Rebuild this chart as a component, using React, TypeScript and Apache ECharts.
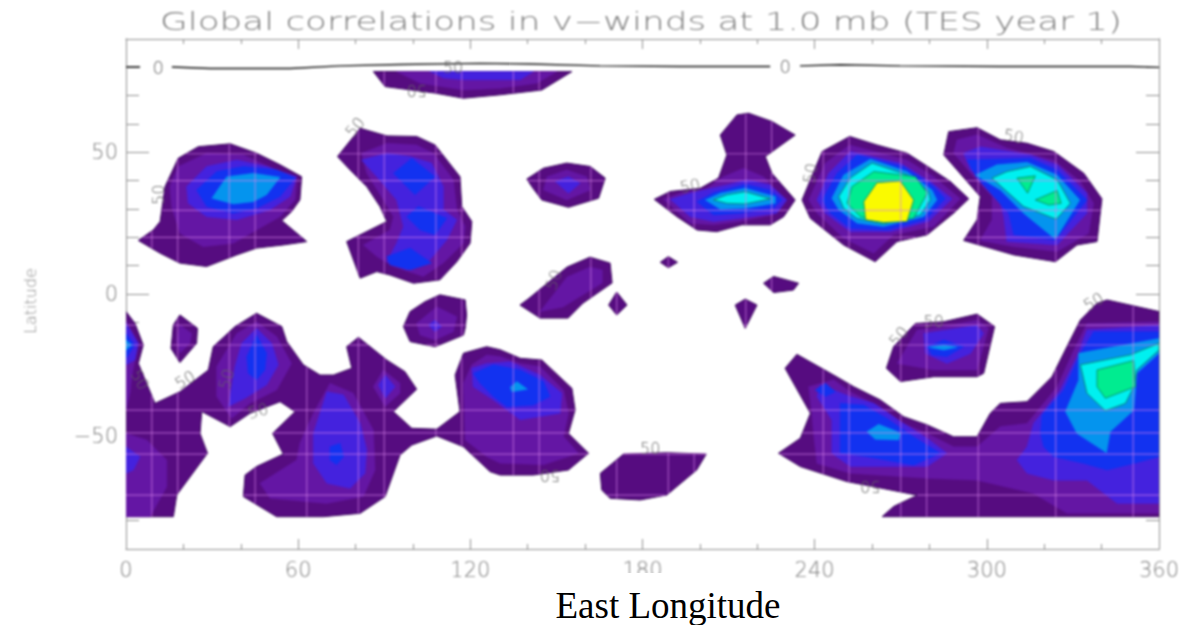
import React, { useEffect, useRef } from "react";
import * as echarts from "echarts";

type Pt = number[];
type Poly = Pt[];

const titleText = "Global correlations in v\u2212winds at 1.0 mb (TES year 1)";
const xName = "East Longitude";
const yName = "Latitude";
const majorLatTicks = [-50, 0, 50];
const levelColors = ["#560c80", "#6416a4", "#4422de", "#1232f0", "#0494ee", "#00f0f0", "#00ec90", "#fafa00"];
const gridLons = [9, 18, 36, 45, 63, 81, 90, 108, 117, 135, 144, 162, 171, 189, 198, 216, 225, 243, 252, 270, 279, 297, 324, 351];
const gridLats = [49.5, 40, 29.5, 20, -11, -18, -41, -49, -56.5, -71];

const level0: Poly[] = [
  [[4.3,18.9],[9.5,22.6],[11.9,25.6],[13.6,37.9],[18.2,47.9],[25.2,52],[36.3,53],[45.5,49.7],[53.7,45.6],[61.2,41.4],[60.6,33.2],[57.7,29.1],[54.3,25.9],[63,18.5],[54.8,17.3],[45.5,16.2],[38.6,13.8],[28.1,9.7],[18.8,10.9],[11.9,14.4]],
  [[81.6,58.5],[90.9,55.8],[101.3,55.6],[107.7,52.6],[116.4,41.4],[117,30.9],[120.5,25.6],[119.9,17.9],[115.3,11.4],[109.4,5],[100.2,3.8],[92,6.7],[87.4,7.9],[81.6,5.6],[76.9,18.5],[90.9,25.6],[88.5,30.9],[83.9,37.9],[78.1,43.8],[73.7,48.5]],
  [[86.2,78.5],[155.4,78.5],[144.9,72],[130.4,70.3],[117.6,69.1],[107.7,70.9],[90.3,73.2]],
  [[139.7,40.6],[145.5,44.4],[153.6,46.2],[161.8,45],[167,40.9],[164.7,33.8],[154.2,30.6],[144.9,33.2],[141.4,37.9]],
  [[184.1,33.4],[189.7,36.2],[200.1,37.3],[206.5,40.9],[209.4,49.1],[207.1,56.1],[212.9,63.2],[217,63.8],[225.1,60.9],[233.2,56.1],[222.8,48.5],[225.1,42.6],[233.2,33.2],[229.2,27.3],[224.5,24.4],[214.6,24.4],[205.9,22],[199,22.6],[192,27.3]],
  [[235.6,33.2],[242.6,50.3],[252.2,55.6],[261.7,52.6],[272.2,49.7],[280.3,44.4],[287.3,39.7],[293.7,33.6],[288.4,28.5],[279.2,20.9],[268.7,18.5],[261.1,11.4],[250.1,17.3],[238.5,26.7]],
  [[285,49.1],[286.7,57.3],[296.6,58.7],[304.7,54.4],[314,53.2],[323.3,50.3],[333.8,42.6],[340.1,33.6],[338.4,18.5],[331.4,17.3],[323.9,11.4],[309.4,13.8],[291.9,18.9],[296.6,26.2],[297.7,34.4],[289.6,43.8]],
  [[18.8,-7.4],[24.9,-12.1],[24.6,-17.4],[18.8,-24.2],[15.7,-19.2],[16.5,-10.9]],
  [[0,-6.2],[3.1,-10.3],[6,-18],[4.3,-24.5],[10.1,-38.6],[18.8,-34.5],[28.7,-26.8],[30.4,-18.6],[38,-11.5],[45.5,-6.8],[54.3,-11.5],[56,-16.8],[61.8,-25],[67.6,-28.6],[72.3,-28.6],[78.7,-26.2],[76.9,-18.6],[81,-15.3],[90.9,-23.3],[97.2,-27.4],[101.3,-33.6],[93.2,-41.5],[99.6,-47.4],[108.3,-47.7],[116.4,-41.5],[114.7,-28.6],[117.6,-20.9],[125.7,-18.6],[130.4,-19.7],[137.4,-22.7],[144.9,-23.3],[155.4,-33.3],[156.5,-40.9],[154.2,-49.2],[161.2,-56.2],[154.2,-62.1],[142,-63.9],[130.4,-63.9],[126.9,-62.7],[117.6,-53.9],[108.3,-50.1],[99.6,-53.3],[95.5,-56.8],[90.3,-71.5],[81.6,-77.4],[68.8,-78.6],[52.5,-78.6],[40.9,-71.5],[41.5,-63.9],[45.5,-60.9],[54.8,-56.5],[51.1,-49.2],[58.9,-41.5],[53.7,-38],[43.2,-42.1],[36.3,-46.8],[26.4,-41.5],[25.8,-49.2],[28.4,-56.2],[17.7,-70.9],[16.5,-78.6],[0,-78.6]],
  [[96.7,-11.5],[99,-6.2],[104.2,-2.7],[109.4,-0.3],[118.2,-2.1],[118.7,-7.4],[118.2,-12.1],[117.6,-14.5],[107.7,-18.6],[99,-16.8]],
  [[173.4,-56.5],[188.5,-56],[202.2,-56.5],[198.9,-62.1],[188.5,-70.9],[179.2,-72.7],[168.7,-72.1],[165.8,-69.2],[165.3,-63.3]],
  [[140.1,-1.8],[153.7,9.5],[161.7,13],[168.7,10.9],[169.4,3.9],[159.3,-3.2],[154.1,-8.5],[144.3,-8.5],[137.3,-3.9]],
  [[186.2,11.2],[189,13.2],[192.2,11.2],[189,9.3]],
  [[222.2,3.8],[225.7,6.2],[234.4,3.8],[232.6,1.4],[225.7,0.5]],
  [[171,0.7],[174.6,-3.9],[171,-7.4],[168.2,-3.9]],
  [[212.3,-3.9],[215.8,-1.8],[219.9,-3.9],[215.8,-12.1]],
  [[227.4,-56.2],[235,-50.9],[238.5,-42.1],[229.7,-26.2],[233.8,-21.3],[246.6,-28.6],[253.6,-32.7],[262.9,-37.4],[271,-43.3],[279.2,-46.2],[288.4,-50.4],[296.6,-50.4],[301.2,-42.1],[304.7,-38.6],[314,-38],[322.7,-29.2],[327.9,-18.6],[332.6,-9.2],[338.4,-3.3],[341.9,-2.1],[360,-6.2],[360,-78.6],[263.5,-78.6],[267.5,-75],[275.7,-71],[260.6,-68],[251.2,-66.2],[235,-60.9]],
  [[265,-26.2],[267.5,-18.6],[275.1,-10.4],[285,-9.8],[296.6,-7.1],[302.7,-11.5],[298.9,-28],[296.6,-29.2],[281.5,-29.2],[269.9,-30.9]],
];

const level1: Poly[] = [
  [[18.2,45],[28.1,49.7],[40.9,49.1],[52.5,43.8],[59.5,40.3],[58.9,33.2],[53.7,27.3],[45.5,22.6],[37.4,17.9],[26.9,16.7],[18.8,21.4],[15.9,30.9],[15.3,37.9]],
  [[82.1,49.7],[90.9,53.2],[101.3,52.6],[107.1,49.7],[114.1,40.3],[115.3,29.7],[118.2,23.8],[117.6,17.9],[110.6,10.9],[103.6,6.2],[93.2,9.7],[87.4,13.2],[82.7,17.3],[92,22.6],[93.2,27.3],[89.7,33.2],[83.9,42.6]],
  [[94.3,78.5],[150.2,78.5],[143.2,74.4],[130.4,72.6],[117.6,72],[102.5,74.4]],
  [[146.7,41.4],[153.6,43.8],[160.6,41.4],[161.8,36.7],[153.6,33.2],[145.5,36.7]],
  [[187.3,33.4],[193.1,35.6],[202.4,37.3],[208.2,41.4],[215.2,44.4],[222.2,41.4],[229.7,33.2],[225.7,27.9],[214,25.6],[204.8,24.4],[196.6,25]],
  [[237.9,33.2],[243.7,46.2],[252.2,52.6],[272.2,47.3],[281.5,41.4],[290.8,33.6],[281.5,23.8],[267.5,20.9],[260.6,14.4],[250.1,19.7],[240.8,28.5]],
  [[288.4,49.7],[289.6,54.4],[296.6,56.2],[307,51.5],[323.3,47.3],[332.6,39.7],[337.2,32],[335.5,21.4],[324.5,15],[309.4,16.7],[297.7,18.9],[301.8,26.2],[301.8,34.4],[295.4,41.4]],
  [[18.8,-10.9],[22.9,-13.9],[22.3,-17.4],[18.8,-20.9],[17.7,-16.2]],
  [[0,-9.2],[4.3,-17.4],[2,-29.2],[1.4,-35],[0,-41]],
  [[0,-49.2],[7.2,-51.5],[14.2,-58.6],[14.2,-68],[8.4,-78.6],[0,-78.6]],
  [[31.6,-25.6],[38.6,-13.9],[45.5,-9.8],[52.5,-15],[57.7,-24.5],[52.5,-33.9],[43.2,-38.6],[36.8,-43.9],[31.6,-36.2]],
  [[60.6,-52.7],[65.3,-42.1],[71.1,-31.5],[79.2,-35],[86.2,-48],[86.8,-62.1],[82.7,-71.5],[69.9,-73.9],[50.2,-72.1],[46.7,-66.8],[59.5,-58.6]],
  [[86.2,-32.7],[89.7,-26.8],[95.5,-31.5],[95.5,-35],[90.3,-39.7]],
  [[101.3,-10.3],[108.3,-4.5],[115.3,-8],[114.1,-13.3],[107.7,-16.2],[102.5,-14.5]],
  [[117.6,-31.5],[120.5,-25],[125.7,-21.5],[130.4,-22.1],[137.4,-24.5],[144.3,-25.6],[152.5,-33.9],[154.2,-42.1],[152.5,-50.3],[157.7,-56.2],[145.5,-60.3],[130.4,-59.7],[125.7,-57.4],[118.2,-51.5]],
  [[153.7,6],[161.7,9.5],[166,8.5],[166,3.9],[152.3,-4.6],[144.3,-6.2]],
  [[237.9,-32.7],[246.6,-30.3],[252.4,-34.5],[262.9,-39.8],[271,-45.7],[279.2,-49.2],[288.4,-53.9],[296.6,-53.9],[304.7,-46.8],[314,-45.7],[324.5,-32.7],[330.3,-19.8],[334.9,-10.4],[360,-9.8],[360,-77.4],[327.9,-77.4],[316.3,-70.4],[296.6,-65.7],[279.2,-65],[252.4,-63.3],[240.8,-59.8],[239.6,-49.2],[239,-42.1]],
  [[268.7,-24.5],[275.7,-12.7],[285,-11.5],[296.6,-9.2],[300.6,-12.1],[296.6,-26.8],[281.5,-26.8]],
];

const level2: Poly[] = [
  [[21.1,37.9],[28.1,45],[38.6,47.3],[49,45],[59.5,41.4],[57.2,34.4],[50.2,29.7],[38.6,26.2],[28.1,27.3],[21.7,32]],
  [[82.1,47.3],[90.9,49.7],[99,48.5],[106.5,46.2],[110.6,37.9],[110.6,29.7],[115.3,26.2],[111.8,19.1],[105.9,12],[97.8,8.5],[90.9,11.4],[94.3,17.9],[96.7,23.8],[94.3,33.2],[87.4,41.4]],
  [[105.9,78.5],[142,78.5],[137.4,75.6],[117.6,75.6],[110.6,76.2]],
  [[149.6,39.7],[154.2,41.4],[158.3,39.1],[154.2,35.6]],
  [[189.7,33.4],[196.6,35.6],[209.4,38.5],[216.4,40.3],[224.5,38.5],[230.3,33.2],[226.8,28.5],[214,26.7],[204.8,25.6],[196.6,27.3]],
  [[240.8,33.2],[244.9,42.6],[252.4,50.3],[269.9,46.2],[280.3,39.7],[287.9,33.6],[279.7,25.6],[266.4,22],[252.4,22],[243.7,28.5]],
  [[291.9,49.7],[297.7,52],[315.2,49.1],[324.5,45.6],[334.9,35.6],[334.9,28.5],[324.5,17.3],[307,18.5],[305.9,27.3],[303.5,36.7],[294.3,43.8]],
  [[0,-10.3],[4.3,-17.4],[3.1,-23.3],[0,-25]],
  [[0,-53.9],[4.9,-57.4],[2.6,-62.1],[0,-63.3]],
  [[35.7,-39.7],[38,-25.6],[40.3,-17.4],[45.5,-12.1],[50.8,-17.4],[53.1,-25],[49,-32.1],[41.5,-36.8]],
  [[70,-34.5],[75.8,-35.6],[81.6,-45.6],[83.9,-55],[83.3,-63.3],[78.1,-68.6],[70,-66.8],[65.3,-59.7],[65.3,-49.2]],
  [[88,-32.1],[90.3,-28.6],[93.8,-32.7],[90.3,-36.8]],
  [[105.4,-10.9],[107.7,-9.2],[110,-11.5],[107.7,-13.3]],
  [[120.5,-26.2],[125.7,-24.5],[133.9,-23.9],[144.3,-28.6],[151.9,-35],[151.3,-42.1],[137.4,-44.4],[128,-37.4],[121,-32.7]],
  [[242,-32.1],[246.6,-33.9],[252.4,-36.2],[260.6,-38.6],[269.9,-45],[279.2,-50.9],[286.1,-56.2],[279.2,-60.9],[252.4,-60.9],[246,-56.2],[246,-44.5],[240.8,-36.2]],
  [[310.5,-58.6],[314,-53.9],[316.3,-45.6],[325.6,-33.9],[331.4,-22.1],[334.9,-12.7],[360,-11],[360,-73.9],[345.4,-73.9],[334.9,-65.7],[323.3,-65.7],[314,-63.3]],
  [[278,-13.9],[286.1,-12.7],[296.6,-11],[298.9,-13.9],[294.3,-21],[286.1,-24.5],[278.6,-21]],
];

const level3: Poly[] = [
  [[24.6,36.7],[31.6,43.2],[40.9,45],[52.5,43.8],[58.9,40.9],[53.7,34.4],[45.5,30.3],[37.4,28.5],[28.1,30.9]],
  [[93.2,42.6],[99.6,47.9],[107.7,41.4],[100.7,35]],
  [[97.8,27.3],[101.9,30.9],[111.8,26.7],[107.7,20.9],[102.5,22.6]],
  [[90.9,13.2],[99,16.2],[106.5,10.9],[99,8.5],[92,10.3]],
  [[199,32.6],[204.8,35.8],[215.8,38.7],[224.5,36.7],[228.6,33.2],[225.7,30.3],[214,28.5],[204.8,27.9]],
  [[242.6,33.2],[247.8,42.6],[254.8,49.1],[271,45],[281.5,37.9],[285.5,33.6],[278.6,26.2],[265.2,22.6],[252.4,23.2],[245.5,28.5]],
  [[293.1,47.3],[315.2,47.9],[324.5,43.8],[334.9,33.2],[323.9,19.1],[309.4,20.9],[307.6,28.5],[296.6,40.9]],
  [[0,-13.9],[3.1,-18],[0,-22.7]],
  [[42.1,-22.1],[45.5,-14.5],[49,-20.9],[48.4,-26.8],[45.5,-30.3],[42.6,-28]],
  [[71.1,-53.9],[74.6,-52.7],[75.8,-57.4],[73.4,-60.3],[71.1,-58.6]],
  [[121,-28],[128,-25],[137.4,-26.8],[145.5,-30.9],[147.8,-36.2],[142,-39.2],[132.7,-39.8],[128,-36.2],[123.4,-31.5]],
  [[248.9,-38.6],[257.1,-39.2],[265.2,-43.9],[274.5,-50.4],[283.8,-56.2],[274.5,-60.4],[258.2,-57.4],[248.9,-56.2]],
  [[240.2,-33.9],[243.7,-31.5],[247.2,-34.5],[243.7,-36.2]],
  [[318.7,-49.2],[319.2,-42.7],[326.8,-33.9],[332.6,-21],[337.2,-13.3],[360,-13.3],[360,-57.4],[351.2,-59.8],[341.9,-62.1],[333.8,-59.8],[323.3,-57.4],[319.8,-53.9]],
  [[279.2,-18.6],[285,-16.2],[291.9,-18.6],[286.1,-22.1],[280.9,-21.5]],
];

const level4: Poly[] = [
  [[35.1,41.4],[44.4,42.6],[53.7,41.2],[49,35],[44.4,32.6],[37.4,31.8],[29.9,33.8]],
  [[201.9,33.2],[207.1,35.6],[215.8,37.3],[226.3,34.4],[226.3,32],[215.8,30.3],[207.1,29.9]],
  [[246,33.8],[250.1,42],[259.4,47.6],[272.2,43.2],[280.9,36.7],[282.6,33.2],[278,27.3],[264,23.8],[254.8,25],[248.4,29.7]],
  [[296,42],[303.5,45.6],[314,46.5],[324.5,42],[332.4,33.2],[323.9,19.3],[312.8,28.5],[304.7,36.7]],
  [[0,-16.2],[2,-18],[0,-19.8]],
  [[133.9,-32.9],[136.2,-30.9],[139.9,-33.6],[134.5,-34.5]],
  [[258.2,-48.6],[262.3,-46],[269.9,-49],[269.3,-51.5],[261.1,-51.3]],
  [[332,-20.9],[360,-15.7],[360,-21],[352.3,-28],[351.2,-41],[343,-48.6],[341.7,-56],[331.4,-49.2],[327.4,-41.5],[332,-30.4]],
  [[279.7,-18.8],[285,-18],[289.6,-18.8],[285,-19.8]],
];

const level5: Poly[] = [
  [[204.8,33.2],[209.4,35],[215.8,36.1],[224.5,33.6],[215.8,31.8],[209.4,32]],
  [[248.4,34.4],[252.4,40.9],[260,46.2],[272.2,42],[279.7,36.1],[280.3,33.2],[276.8,27.9],[264,24.7],[254.8,26.7],[250.1,30.3]],
  [[301.8,40.9],[307,43.2],[315.2,45],[324.5,40.3],[329.1,32],[324.2,26.4],[312.8,30.9]],
  [[332.6,-25],[350,-21.5],[360,-17.4],[360,-19.8],[352.3,-26.8],[351.2,-32.7],[348.3,-38.6],[341.3,-41.2],[334.9,-35]],
];

const level6: Poly[] = [
  [[251.3,32],[253,37.9],[260.6,43.2],[275.1,41.4],[279.2,35.6],[274.5,26.7],[264,25.2],[255.9,27.3]],
  [[310.5,40.9],[316.9,41.7],[314.2,35.6]],
  [[316.9,33.2],[324.5,36.5],[325.9,32],[321.6,31.4]],
  [[338.4,-26.8],[351.2,-23.5],[351.8,-32.7],[341.3,-36.8],[338.4,-32.7]],
];

const level7: Poly[] = [
  [[257.1,32.6],[261.7,39.3],[269.9,39.9],[274.5,33.2],[272.2,25.6],[264,25.2],[257.7,26.2]],
];

const levels = [level0, level1, level2, level3, level4, level5, level6, level7];

const zeroLineA = [[0,80.1],[4.9,80.1]];
const zeroLineB = [[16,80.1],[29.3,79.6],[57.2,79.6],[74.6,80.5],[95.5,81],[123.4,81.4],[140.8,81.2],[165.2,80.5],[193.1,80.3],[224.5,80.3]];
const zeroLineC = [[234.9,80.5],[248.9,80.9],[269.8,80.5],[304.6,80.3],[325.5,80.3],[350,80.3],[360,80]];

// lon, lat, rotation in degrees, text
const contourLabels: [number, number, number, string][] = [
  [11.2, 80, 0, "0"], [229.7, 80.4, 0, "0"],
  [11.3, 35, 90, "50"], [79.8, 58.9, 50, "50"], [114, 80, 0, "50"], [101.3, 71.8, 180, "50"],
  [4.9, -30.3, -60, "50"], [20.6, -30.3, 30, "50"], [35, -30, 75, "50"], [46, -41.3, 15, "50"],
  [196.6, 38.2, 10, "50"], [238.5, 42.6, 80, "50"], [309.4, 55.6, -10, "50"], [149, 5, 70, "50"],
  [182.7, -54.7, 0, "50"], [147.8, -64.1, 180, "50"], [259.4, -68, 180, "50"], [337.2, -2.7, 30, "50"],
  [269.3, -15, 50, "50"], [281.5, -9.8, 0, "50"],
];

// Visible parts of the raster's grid lines: each line is cut by the lowest contour level.
function crossings(poly: Poly, axis: number, v: number): number[] {
  const out: number[] = [];
  for (let i = 0; i < poly.length; i++) {
    const a = poly[i];
    const b = poly[(i + 1) % poly.length];
    if (a[axis] <= v !== b[axis] <= v) {
      const t = (v - a[axis]) / (b[axis] - a[axis]);
      out.push(a[1 - axis] + t * (b[1 - axis] - a[1 - axis]));
    }
  }
  return out.sort((p, q) => p - q);
}
function gridSegments(): number[][] {
  const segs: number[][] = [];
  for (const poly of level0) {
    for (const lon of gridLons) {
      const c = crossings(poly, 0, lon);
      for (let i = 0; i + 1 < c.length; i += 2) segs.push([lon, c[i], lon, c[i + 1]]);
    }
    for (const lat of gridLats) {
      const c = crossings(poly, 1, lat);
      for (let i = 0; i + 1 < c.length; i += 2) segs.push([c[i], lat, c[i + 1], lat]);
    }
  }
  return segs;
}

const GRAY = "#8e8e8e";
const TEXT = "#7c7c7c";
const THIN = "'DejaVu Sans'";

function baseXAxis(position: string, labels: boolean) {
  return {
    type: "value", position, min: 0, max: 360, interval: 60,
    axisLine: { show: true, onZero: false, lineStyle: { color: GRAY, width: 1 } },
    axisTick: { show: true, inside: true, length: 10, lineStyle: { color: GRAY } },
    minorTick: { show: true, splitNumber: 3, length: 5, lineStyle: { color: GRAY } },
    splitLine: { show: false },
    axisLabel: labels
      ? { show: true, color: TEXT, fontFamily: THIN, fontWeight: 200, fontSize: 21, margin: 10, showMinLabel: true, showMaxLabel: true }
      : { show: false },
  };
}
function baseYAxis(position: string, major: boolean, labels: boolean) {
  return {
    type: "value", position, min: -90, max: 90,
    ...(major ? {} : { interval: 10 }),
    axisLine: { show: true, onZero: false, lineStyle: { color: GRAY, width: 1 } },
    axisTick: major
      ? { show: true, inside: true, length: 23, customValues: majorLatTicks, lineStyle: { color: GRAY } }
      : { show: true, inside: true, length: 13, lineStyle: { color: GRAY } },
    minorTick: { show: false },
    splitLine: { show: false },
    axisLabel: labels
      ? {
          show: true, customValues: majorLatTicks, color: TEXT, fontFamily: THIN, fontWeight: 200, fontSize: 21, margin: 8,
          formatter: (v: number) => String(v).replace("-", "\u2212"),
        }
      : { show: false },
    ...(labels
      ? {
          name: yName, nameLocation: "middle", nameGap: 88, nameRotate: 90,
          nameTextStyle: { color: "#8a8a8a", fontFamily: THIN, fontWeight: 200, fontSize: 16, padding: [0, 14, 0, 0] },
        }
      : {}),
  };
}

export default function App() {
  const mainRef = useRef<HTMLDivElement>(null);
  const topRef = useRef<HTMLDivElement>(null);

  useEffect(() => {
    document.body.style.margin = "0";
    const chart = echarts.init(mainRef.current!, undefined, { renderer: "svg" });
    const overlay = echarts.init(topRef.current!, undefined, { renderer: "svg" });

    const polySeries = levels.map((polys, li) => ({
      type: "custom", silent: true, xAxisIndex: 0, yAxisIndex: 0, z: 2 + li, clip: true,
      encode: { x: 0, y: 1 },
      data: polys.map((p, i) => [p[0][0], p[0][1], i]),
      renderItem: (_: any, api: any) => ({
        type: "polygon",
        shape: { points: polys[api.value(2)].map((pt) => api.coord(pt)) },
        style: {
          fill: levelColors[li],
          stroke: li === 0 ? "#3e0a60" : li >= 5 ? "#0a8060" : levelColors[li],
          lineWidth: li === 0 ? 1 : li >= 5 ? 0.8 : 0.5,
        },
      }),
    }));

    const segs = gridSegments();
    const gridSeries = {
      type: "custom", silent: true, xAxisIndex: 0, yAxisIndex: 0, z: 12,
      encode: { x: 0, y: 1 },
      data: segs.map((s) => [s[0], s[1], s[2], s[3]]),
      renderItem: (_: any, api: any) => {
        const a = api.coord([api.value(0), api.value(1)]);
        const b = api.coord([api.value(2), api.value(3)]);
        return {
          type: "line",
          shape: { x1: a[0], y1: a[1], x2: b[0], y2: b[1] },
          style: { stroke: "rgba(215,130,235,0.6)", lineWidth: 1.2 },
        };
      },
    };

    const labelSeries = {
      type: "custom", silent: true, xAxisIndex: 0, yAxisIndex: 0, z: 14,
      encode: { x: 0, y: 1 },
      data: contourLabels.map((l) => [l[0], l[1], l[2], l[3]]),
      renderItem: (_: any, api: any) => {
        const c = api.coord([api.value(0), api.value(1)]);
        const t = String(api.value(3));
        return {
          type: "text", x: c[0], y: c[1],
          rotation: (api.value(2) * Math.PI) / 180,
          style: {
            text: t, fill: "#666666", fontFamily: THIN, fontWeight: 200, fontSize: t === "0" ? 18 : 16,
            align: "center", verticalAlign: "middle",
          },
        };
      },
    };

    const zeroSeries = [zeroLineA, zeroLineB, zeroLineC].map((d) => ({
      type: "line", xAxisIndex: 0, yAxisIndex: 0, z: 13, data: d, showSymbol: false, silent: true,
      lineStyle: { color: "#111111", width: 1.4 },
    }));

    chart.setOption({
      animation: false,
      backgroundColor: "#ffffff",
      grid: { left: 126, right: 25, top: 39, bottom: 76, containLabel: false },
      tooltip: { show: false },
      xAxis: [baseXAxis("bottom", true), baseXAxis("top", false)],
      yAxis: [
        baseYAxis("left", false, false),
        baseYAxis("left", true, true),
        baseYAxis("right", false, false),
        baseYAxis("right", true, false),
      ],
      graphic: [
        {
          type: "text", x: 641, y: 22, scaleX: 1.49, z: 20,
          style: {
            text: titleText, fill: TEXT, fontFamily: THIN, fontWeight: 200, fontSize: 24,
            align: "center", verticalAlign: "middle",
          },
        },
      ],
      series: [...polySeries, gridSeries, ...zeroSeries, labelSeries],
    });

    overlay.setOption({
      animation: false,
      graphic: [
        { type: "rect", shape: { x: 560, y: 573, width: 215, height: 52 }, style: { fill: "#ffffff" } },
        {
          type: "text", x: 668, y: 605,
          style: {
            text: xName, fill: "#000000", fontFamily: "'Liberation Serif'", fontSize: 37,
            align: "center", verticalAlign: "middle",
          },
        },
      ],
    });

    return () => {
      chart.dispose();
      overlay.dispose();
    };
  }, []);

  return (
    <div style={{ position: "fixed", left: 0, top: 0, width: 1184, height: 625, overflow: "hidden", background: "#fff" }}>
      <div ref={mainRef} style={{ position: "absolute", left: 0, top: 0, width: 1184, height: 625, filter: "blur(0.8px)" }} />
      <div ref={topRef} style={{ position: "absolute", left: 0, top: 0, width: 1184, height: 625, pointerEvents: "none" }} />
    </div>
  );
}
